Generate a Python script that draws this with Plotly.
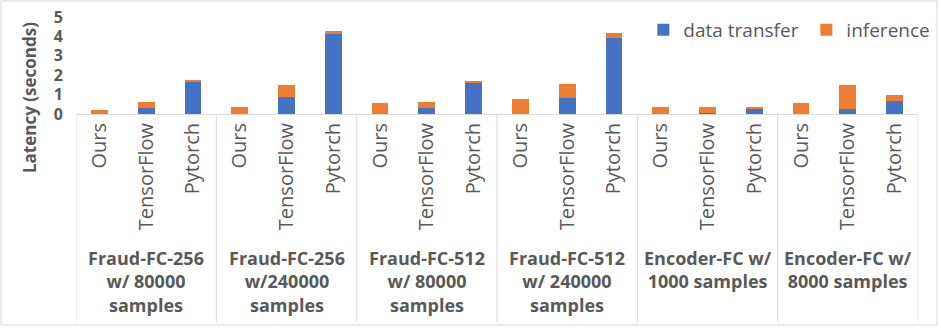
import plotly.graph_objects as go

groups = ["Fraud-FC-256<br>w/ 80000<br>samples",
          "Fraud-FC-256<br>w/240000<br>samples",
          "Fraud-FC-512<br>w/ 80000<br>samples",
          "Fraud-FC-512<br>w/ 240000<br>samples",
          "Encoder-FC w/<br>1000 samples",
          "Encoder-FC w/<br>8000 samples"]
frameworks = ["Ours", "TensorFlow", "Pytorch"]

data_transfer = [0.0, 0.30, 1.68,
                 0.0, 0.87, 4.11,
                 0.0, 0.29, 1.62,
                 0.0, 0.85, 3.94,
                 0.0, 0.07, 0.28,
                 0.0, 0.28, 0.69]
inference = [0.23, 0.30, 0.05,
             0.37, 0.63, 0.16,
             0.57, 0.35, 0.10,
             0.76, 0.69, 0.24,
             0.38, 0.31, 0.10,
             0.59, 1.23, 0.30]

y_ticks = [0, 1, 2, 3, 4, 5]

n_fw = len(frameworks)
xpos = list(range(len(groups) * n_fw))
ticktext = [frameworks[i % n_fw] for i in xpos]

GRAY = "#595959"
LINE = "#d9d9d9"
FONT = "Open Sans"

fig = go.Figure()
fig.add_trace(go.Bar(x=xpos, y=data_transfer, name="data transfer",
                     marker=dict(color="#4472C4", line=dict(width=0))))
fig.add_trace(go.Bar(x=xpos, y=inference, name="inference",
                     marker=dict(color="#ED7D31", line=dict(width=0))))

L, R, T, B = 76, 23, 17, 214
W, H = 941, 328
ph = H - T - B
pw = W - L - R

shapes = []
for g in range(len(groups) + 1):
    shapes.append(dict(type="line", xref="x", yref="paper",
                       x0=g * n_fw - 0.5, x1=g * n_fw - 0.5,
                       y0=-(322 - 114) / ph, y1=0,
                       line=dict(color=LINE, width=1)))
shapes.append(dict(type="rect", xref="paper", yref="paper",
                   x0=(1 - L) / pw, x1=(937 - L) / pw,
                   y0=-(325 - 114) / ph, y1=(114 - 1) / ph,
                   line=dict(color=LINE, width=1)))

annotations = []
for g, label in enumerate(groups):
    annotations.append(dict(x=g * n_fw + 1, y=-(244 - 114) / ph,
                            xref="x", yref="paper", text=label,
                            showarrow=False, xanchor="center", yanchor="top",
                            font=dict(family=FONT, size=18, color=GRAY, weight="bold")))
annotations.append(dict(x=(29 - L) / pw, y=(114 - 98) / ph, xref="paper", yref="paper",
                        text="Latency (seconds)", textangle=-90, showarrow=False,
                        xanchor="center", yanchor="middle",
                        font=dict(family=FONT, size=17, color=GRAY, weight="bold")))

fig.update_layout(
    barmode="stack",
    bargap=0.64,
    width=W, height=H,
    margin=dict(l=L, r=R, t=T, b=B, autoexpand=False),
    plot_bgcolor="white", paper_bgcolor="white",
    showlegend=True,
    legend=dict(orientation="h", x=1.061, xanchor="right", y=(114 - 30) / ph,
                yanchor="middle", font=dict(family=FONT, size=19, color=GRAY),
                bgcolor="rgba(0,0,0,0)", itemwidth=30, traceorder="normal",
                entrywidth=118),
    xaxis=dict(tickmode="array", tickvals=xpos, ticktext=ticktext, tickangle=-90,
               range=[-0.5, len(xpos) - 0.5], showgrid=False, zeroline=False,
               showline=True, linecolor=LINE, ticks="", automargin=False,
               tickfont=dict(family=FONT, size=20, color=GRAY)),
    yaxis=dict(range=[0, 5], tickvals=y_ticks, showgrid=False, zeroline=False,
               showline=False, ticks="", ticklabelstandoff=12, automargin=False,
               tickfont=dict(family=FONT, size=16, color=GRAY, weight="bold")),
    shapes=shapes,
    annotations=annotations,
)

fig.write_html("out.html", config={"displayModeBar": False},
               post_script="document.body.style.margin='0';document.body.style.padding='0';")
